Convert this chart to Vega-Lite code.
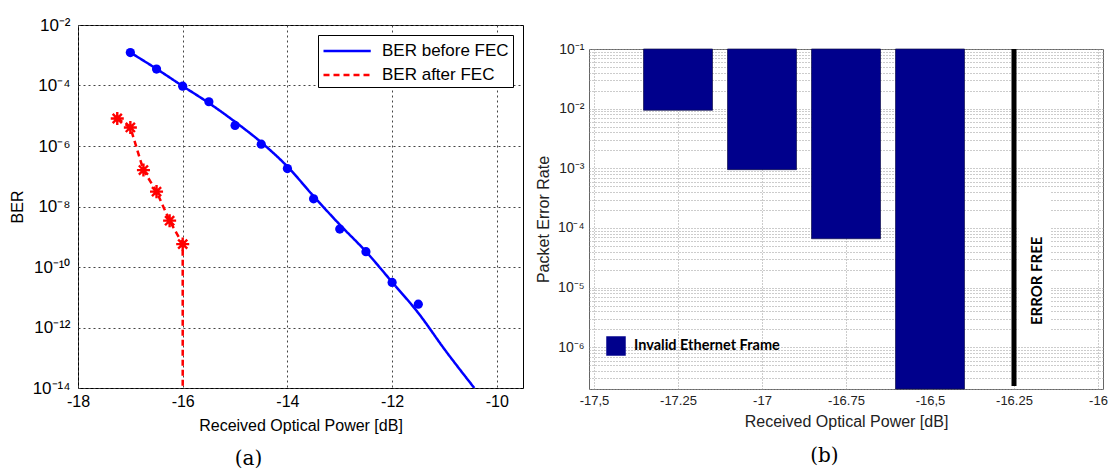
{
  "$schema": "https://vega.github.io/schema/vega-lite/v6.json",
  "background": "white",
  "padding": {"left": 8, "top": 15, "right": 0, "bottom": 0},
  "spacing": 10,
  "bounds": "full",
  "resolve": {"scale": {"color": "independent", "strokeDash": "independent"}, "legend": {"color": "independent", "strokeDash": "independent"}},
  "config": {
    "font": "Liberation Sans",
    "view": {"stroke": null},
    "axis": {"labelFont": "Liberation Sans", "titleFont": "Liberation Sans", "titleFontWeight": "normal", "labelColor": "#000", "titleColor": "#000", "ticks": false, "domain": false, "labelFlush": false, "labelOverlap": false},
    "title": {"font": "DejaVu Serif", "fontWeight": "normal", "color": "#000"}
  },
  "datasets": {
    "before_fit": [
      {"power": -17, "ber": 1.23e-3, "series": "BER before FEC"},
      {"power": -16.5, "ber": 3.55e-4, "series": "BER before FEC"},
      {"power": -16, "ber": 9.55e-5, "series": "BER before FEC"},
      {"power": -15.5, "ber": 2.63e-5, "series": "BER before FEC"},
      {"power": -15, "ber": 6.3e-6, "series": "BER before FEC"},
      {"power": -14.5, "ber": 1.32e-6, "series": "BER before FEC"},
      {"power": -14, "ber": 2.09e-7, "series": "BER before FEC"},
      {"power": -13.5, "ber": 2.19e-8, "series": "BER before FEC"},
      {"power": -13, "ber": 2.51e-9, "series": "BER before FEC"},
      {"power": -12.5, "ber": 3.24e-10, "series": "BER before FEC"},
      {"power": -12, "ber": 3.16e-11, "series": "BER before FEC"},
      {"power": -11.5, "ber": 3.02e-12, "series": "BER before FEC"},
      {"power": -11, "ber": 1.91e-13, "series": "BER before FEC"},
      {"power": -10.43, "ber": 1e-14, "series": "BER before FEC"}
    ],
    "before_pts": [
      {"power": -17, "ber": 1.23e-3},
      {"power": -16.5, "ber": 3.5e-4},
      {"power": -16, "ber": 9.5e-5},
      {"power": -15.5, "ber": 2.9e-5},
      {"power": -15, "ber": 4.8e-6},
      {"power": -14.5, "ber": 1.15e-6},
      {"power": -14, "ber": 1.8e-7},
      {"power": -13.5, "ber": 1.8e-8},
      {"power": -13, "ber": 1.8e-9},
      {"power": -12.5, "ber": 3.2e-10},
      {"power": -12, "ber": 3.1e-11},
      {"power": -11.5, "ber": 5.9e-12}
    ],
    "after_line": [
      {"power": -17.25, "ber": 8.1e-6, "series": "BER after FEC"},
      {"power": -17, "ber": 4.1e-6, "series": "BER after FEC"},
      {"power": -16.75, "ber": 1.6e-7, "series": "BER after FEC"},
      {"power": -16.5, "ber": 3.1e-8, "series": "BER after FEC"},
      {"power": -16.25, "ber": 3.4e-9, "series": "BER after FEC"},
      {"power": -16, "ber": 5.7e-10, "series": "BER after FEC"},
      {"power": -16, "ber": 1e-14, "series": "BER after FEC"}
    ],
    "after_pts": [
      {"power": -17.25, "ber": 8.1e-6},
      {"power": -17, "ber": 4.1e-6},
      {"power": -16.75, "ber": 1.6e-7},
      {"power": -16.5, "ber": 3.1e-8},
      {"power": -16.25, "ber": 3.4e-9},
      {"power": -16, "ber": 5.7e-10}
    ],
    "bars": [
      {"power": -17.25, "per": 0.0094, "series": "Invalid Ethernet Frame"},
      {"power": -17, "per": 0.00095, "series": "Invalid Ethernet Frame"},
      {"power": -16.75, "per": 6.6e-5, "series": "Invalid Ethernet Frame"},
      {"power": -16.5, "per": 2e-7, "series": "Invalid Ethernet Frame"}
    ],
    "errfree": [
      {"power": -16.25, "label": "ERROR FREE"}
    ]
  },
  "hconcat": [
    {
      "width": 445,
      "height": 363,
      "title": {"text": "(a)", "orient": "bottom", "fontSize": 20, "offset": 16, "anchor": "middle", "dx": -52},
      "view": {"stroke": "#000", "strokeWidth": 1},
      "layer": [
        {
          "data": {"name": "before_fit"},
          "mark": {"type": "line", "strokeWidth": 2.5, "interpolate": "monotone", "clip": true},
          "encoding": {
            "x": {"field": "power", "type": "quantitative", "scale": {"domain": [-18, -9.5], "nice": false, "zero": false},
              "axis": {"title": "Received Optical Power [dB]", "values": [-18, -16, -14, -12, -10], "labelExpr": "'' + datum.value", "grid": true, "gridColor": "#444", "gridDash": [2, 3], "labelFontSize": 16, "titleFontSize": 16, "labelPadding": 5, "titlePadding": 8}},
            "y": {"field": "ber", "type": "quantitative", "scale": {"type": "log", "domain": [1e-14, 1e-2], "nice": false},
              "axis": {"title": "BER", "values": [1e-14, 1e-12, 1e-10, 1e-8, 1e-6, 1e-4, 1e-2], "labelExpr": "'10' + replace(replace(replace(replace(replace(replace(replace(replace(replace('' + round(log(datum.value) / LN10), '-', '⁻'), '0', '⁰'), '1', '¹'), '2', '²'), '3', '³'), '4', '⁴'), '5', '⁵'), '6', '⁶'), '8', '⁸')", "grid": true, "gridColor": "#444", "gridDash": [2, 3], "labelFontSize": 17, "titleFontSize": 16, "labelPadding": 8, "titlePadding": 7}},
            "color": {"field": "series", "type": "nominal", "scale": {"domain": ["BER before FEC", "BER after FEC"], "range": ["#0000ff", "#ff0000"]},
              "legend": {"title": null, "orient": "top-right", "offset": 10, "strokeColor": "#000", "fillColor": "#fff", "padding": 4, "symbolType": "M-1,0H3.5", "symbolSize": 441, "symbolStrokeWidth": 2.5, "labelFontSize": 17, "labelOffset": 36, "rowPadding": 4, "labelLimit": 300}},
            "strokeDash": {"field": "series", "type": "nominal", "scale": {"domain": ["BER before FEC", "BER after FEC"], "range": [[1, 0], [6, 4]]},
              "legend": {"title": null, "orient": "top-right", "offset": 10, "strokeColor": "#000", "fillColor": "#fff", "padding": 4, "symbolType": "M-1,0H3.5", "symbolSize": 441, "symbolStrokeWidth": 2.5, "labelFontSize": 17, "labelOffset": 36, "rowPadding": 4, "labelLimit": 300}}
          }
        },
        {
          "data": {"name": "before_pts"},
          "mark": {"type": "point", "filled": true, "shape": "circle", "color": "#0000ff", "size": 85, "opacity": 1},
          "encoding": {
            "x": {"field": "power", "type": "quantitative"},
            "y": {"field": "ber", "type": "quantitative"}
          }
        },
        {
          "data": {"name": "after_line"},
          "mark": {"type": "line", "strokeWidth": 2.5, "clip": true},
          "encoding": {
            "x": {"field": "power", "type": "quantitative"},
            "y": {"field": "ber", "type": "quantitative"},
            "color": {"field": "series", "type": "nominal"},
            "strokeDash": {"field": "series", "type": "nominal"},
            "order": {"value": null}
          }
        },
        {
          "data": {"name": "after_pts"},
          "mark": {"type": "point", "filled": false, "shape": "M0,-1L0,1M-1,0L1,0M-0.7,-0.7L0.7,0.7M-0.7,0.7L0.7,-0.7", "stroke": "#ff0000", "strokeWidth": 2.4, "size": 170, "opacity": 1},
          "encoding": {
            "x": {"field": "power", "type": "quantitative"},
            "y": {"field": "ber", "type": "quantitative"}
          }
        }
      ]
    },
    {
      "title": {"text": "(b)", "orient": "bottom", "fontSize": 20, "offset": 16, "anchor": "middle", "dx": 3},
      "spacing": 15,
      "vconcat": [
        {
          "width": 514,
          "height": 1,
          "data": {"values": []},
          "mark": {"type": "point", "opacity": 0},
          "view": {"fill": "#ffffff", "stroke": null}
        },
        {
          "width": 514,
          "height": 340,
          "view": {"stroke": "#666", "strokeWidth": 1},
          "layer": [
            {
              "data": {"name": "errfree"},
              "mark": {"type": "rect", "color": "#fff"},
              "encoding": {
                "x": {"datum": -16.237, "type": "quantitative"},
                "x2": {"datum": -16.141},
                "y": {"datum": 4.7e-4, "type": "quantitative"},
                "y2": {"datum": 1.1e-6}
              }
            },
            {
              "data": {"name": "bars"},
              "mark": {"type": "bar", "size": 69, "stroke": "#10104a", "strokeWidth": 0.7},
              "encoding": {
                "x": {"field": "power", "type": "quantitative", "scale": {"domain": [-17.5, -16], "nice": false, "zero": false},
                  "axis": {"title": "Received Optical Power [dB]", "values": [-17.5, -17.25, -17, -16.75, -16.5, -16.25, -16], "labelExpr": "datum.value == -17.5 ? '-17,5' : datum.value == -16.5 ? '-16,5' : '' + datum.value", "grid": true, "gridColor": "#999", "gridDash": [1, 2], "labelFontSize": 13, "labelColor": "#222", "titleColor": "#222", "titleFontSize": 16, "labelPadding": 5, "titlePadding": 6}},
                "y": {"field": "per", "type": "quantitative", "scale": {"type": "log", "domain": [2e-7, 0.1], "nice": false},
                  "axis": {"title": "Packet Error Rate", "values": [2e-7, 3e-7, 4e-7, 5e-7, 6e-7, 7e-7, 8e-7, 9e-7, 1e-6, 2e-6, 3e-6, 4e-6, 5e-6, 6e-6, 7e-6, 8e-6, 9e-6, 1e-5, 2e-5, 3e-5, 4e-5, 5e-5, 6e-5, 7e-5, 8e-5, 9e-5, 1e-4, 2e-4, 3e-4, 4e-4, 5e-4, 6e-4, 7e-4, 8e-4, 9e-4, 1e-3, 2e-3, 3e-3, 4e-3, 5e-3, 6e-3, 7e-3, 8e-3, 9e-3, 1e-2, 2e-2, 3e-2, 4e-2, 5e-2, 6e-2, 7e-2, 8e-2, 9e-2, 0.1], "labelExpr": "abs(log(datum.value) / LN10 - round(log(datum.value) / LN10)) < 0.001 ? '10' + replace(replace(replace(replace(replace(replace(replace(replace(replace('' + round(log(datum.value) / LN10), '-', '⁻'), '0', '⁰'), '1', '¹'), '2', '²'), '3', '³'), '4', '⁴'), '5', '⁵'), '6', '⁶'), '8', '⁸') : ''", "grid": true, "gridColor": "#999", "gridDash": [1, 2], "labelFontSize": 14, "labelColor": "#222", "titleColor": "#222", "titleFontSize": 16, "labelPadding": 5, "titlePadding": 6}},
                "y2": {"datum": 0.1},
                "color": {"field": "series", "type": "nominal", "scale": {"range": ["#00008c"]},
                  "legend": {"title": null, "orient": "none", "legendX": 17, "legendY": 311, "symbolType": "square", "symbolSize": 380, "symbolStrokeWidth": 0, "labelFont": "Lato", "labelFontWeight": "bold", "labelFontSize": 14.5, "labelOffset": 8, "padding": 0, "labelLimit": 300}}
              }
            },
            {
              "data": {"name": "errfree"},
              "mark": {"type": "rule", "color": "#000", "strokeWidth": 5},
              "encoding": {
                "x": {"field": "power", "type": "quantitative"},
                "y": {"datum": 0.1, "type": "quantitative"},
                "y2": {"datum": 2.24e-7}
              }
            },
            {
              "data": {"name": "errfree"},
              "mark": {"type": "text", "angle": 270, "font": "Lato", "fontWeight": "bold", "fontSize": 15, "color": "#000", "align": "center", "baseline": "middle"},
              "encoding": {
                "x": {"datum": -16.182, "type": "quantitative"},
                "y": {"datum": 1.3e-5, "type": "quantitative"},
                "text": {"field": "label"}
              }
            }
          ]
        }
      ]
    }
  ]
}
